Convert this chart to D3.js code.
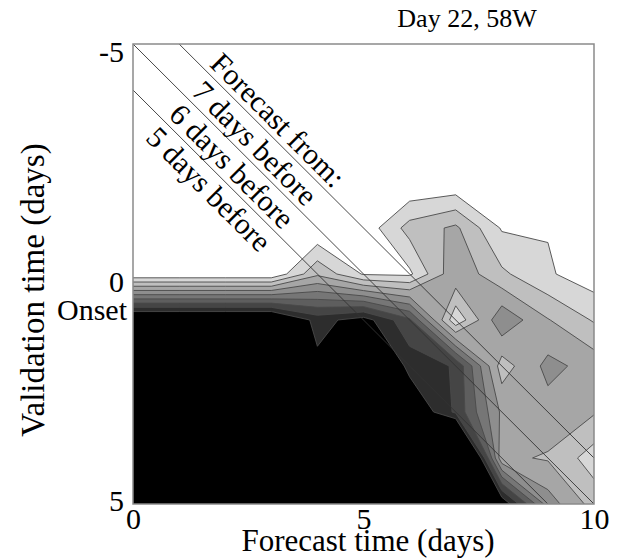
<!DOCTYPE html>
<html>
<head>
<meta charset="utf-8">
<script src="https://cdn.jsdelivr.net/npm/d3@7"></script>
<style>
  html, body { margin: 0; padding: 0; background: #fff; }
  text { font-family: "Liberation Serif", "Times New Roman", serif; fill: #000; }
</style>
</head>
<body>
<svg id="chart" width="619" height="560"></svg>
<script>
// Grid axes: forecast lead (days) and validation time relative to onset (days)
const forecastDays   = [0, 1, 2, 3, 4, 5, 6, 7, 8, 9, 10];
const validationDays = [-5, -4, -3, -2, -1, 0, 1, 2, 3, 4, 5];

// Field values, one row per validation day (columns follow forecastDays)
const rowVm5 = [0, 0, 0, 0, 0, 0, 0, 0, 0, 0, 0];
const rowVm4 = [0, 0, 0, 0, 0, 0, 0, 0, 0, 0, 0];
const rowVm3 = [0, 0, 0, 0, 0, 0, 0, 0, 0, 0, 0];
const rowVm2 = [0, 0, 0, 0, 0, 0, 0, 0.015, 0, 0, 0];
const rowVm1 = [0, 0, 0, 0, 0, 0.03, 0.24, 0.32, 0.09, 0.094, 0];
const rowV0  = [0.01, 0.01, 0.01, 0.01, 0.28, 0.09, 0.08, 0.38, 0.22, 0.113, 0.04];
const rowV1  = [1.1, 1.1, 1.1, 1.1, 0.86, 0.95, 0.72, 0.12, 0.48, 0.306, 0.19];
const rowV2  = [1.2, 1.2, 1.2, 1.2, 0.93, 1.2, 0.86, 0.79, 0.25, 0.43, 0.36];
const rowV3  = [1.2, 1.2, 1.2, 1.2, 1.2, 1.2, 1.03, 0.78, 0.38, 0.36, 0.31];
const rowV4  = [1.2, 1.2, 1.2, 1.2, 1.2, 1.2, 1.2, 1.6, 0.32, 0.29, 0.15];
const rowV5  = [1.2, 1.2, 1.2, 1.2, 1.2, 1.2, 1.2, 1.6, 1.0, 0.45, 0.26];
const fieldRows = [rowVm5, rowVm4, rowVm3, rowVm2, rowVm1, rowV0, rowV1, rowV2, rowV3, rowV4, rowV5];

// Contour levels
const levels = [0.1, 0.2, 0.3, 0.4, 0.5, 0.6, 0.7, 0.8, 0.9];

// Forecast start lines: lead (days before onset); onset sits at validation day 1
const onsetDay = 1;
const leadDays = [7, 6, 5];
const leadLabels = ["7 days before", "6 days before", "5 days before"];
const headerLabel = "Forecast from:";

// Axis ticks
const xTicks = [0, 5, 10];
const yTicks = [-5, 0, 5];

const titleText = "Day 22, 58W";
const xTitle = "Forecast time (days)";
const yTitle = "Validation time (days)";

// ---------------------------------------------------------------------------
const svg = d3.select("#chart");
const plot = { left: 133, right: 594, top: 44, bottom: 504 };

const x = d3.scaleLinear().domain([0, 10]).range([plot.left, plot.right]);
const y = d3.scaleLinear().domain([-5, 5]).range([plot.top, plot.bottom]);

svg.append("defs").append("clipPath").attr("id", "plotClip")
  .append("rect")
  .attr("x", plot.left).attr("y", plot.top)
  .attr("width", plot.right - plot.left).attr("height", plot.bottom - plot.top);

const nx = forecastDays.length, ny = validationDays.length;
const dxStep = forecastDays[1] - forecastDays[0];
const dyStep = validationDays[1] - validationDays[0];
const values = fieldRows.flat();
const negValues = values.map(v => -v);

// grid coordinates (sample i sits at i + 0.5) -> data -> pixels
const gridToScreen = d3.geoTransform({
  point(gx, gy) {
    this.stream.point(
      x(forecastDays[0] + (gx - 0.5) * dxStep),
      y(validationDays[0] + (gy - 0.5) * dyStep)
    );
  }
});
const path = d3.geoPath(gridToScreen);
const contourGen = d3.contours().size([nx, ny]);

// grey shade per band: white below the first level, black above the last
const shade = d3.scaleLinear().domain([1, levels.length - 1]).range([215, 45]);
const bandColor = i => {
  const k = i + 1;
  const g = k >= levels.length ? 0 : Math.round(shade(k));
  return `rgb(${g},${g},${g})`;
};

// Saddle cells: for the light levels the high corners are joined (contour the
// low side and fill its complement); for the darker levels the low corners are.
const joinHighBelow = 0.35;
const outer = `M${x(-2)},${y(-7)}H${x(12)}V${y(7)}H${x(-2)}Z`;

const field = svg.append("g").attr("clip-path", "url(#plotClip)");
field.append("rect")
  .attr("x", plot.left).attr("y", plot.top)
  .attr("width", plot.right - plot.left).attr("height", plot.bottom - plot.top)
  .attr("fill", "#fff");

levels.forEach((t, i) => {
  let fillD, lineD;
  if (t < joinHighBelow) {
    lineD = path(contourGen.thresholds([-t])(negValues)[0]);
    fillD = outer + lineD;
  } else {
    lineD = fillD = path(contourGen.thresholds([t])(values)[0]);
  }
  field.append("path")
    .attr("class", "band")
    .attr("d", fillD)
    .attr("fill-rule", "evenodd")
    .attr("fill", bandColor(i));
  field.append("path")
    .attr("class", "isoline")
    .attr("d", lineD)
    .attr("fill", "none")
    .attr("stroke", "#4a4a4a")
    .attr("stroke-width", 0.9)
    .attr("stroke-linejoin", "round");
});

// forecast start lines: validation = forecast + onset - lead
const guide = svg.append("g").attr("clip-path", "url(#plotClip)");
guide.selectAll("line")
  .data(leadDays)
  .join("line")
  .attr("x1", x(0)).attr("y1", L => y(0 + onsetDay - L))
  .attr("x2", x(10)).attr("y2", L => y(10 + onsetDay - L))
  .attr("stroke", "#333")
  .attr("stroke-width", 0.9);

// labels ride between the lines, rotated along them
const angle = Math.atan2(y(1) - y(0), x(1) - x(0)) * 180 / Math.PI;
const along = -0.2; // forecast + validation at the label centres
const labelItems = [{ text: headerLabel, offset: leadDays[0] - onsetDay + 0.5 }]
  .concat(leadDays.map((L, i) => ({ text: leadLabels[i], offset: L - onsetDay - 0.5 })));

svg.append("g").selectAll("text")
  .data(labelItems)
  .join("text")
  .attr("transform", d => {
    const f = (along + d.offset) / 2, v = (along - d.offset) / 2;
    return `translate(${x(f)},${y(v)}) rotate(${angle})`;
  })
  .attr("text-anchor", "middle")
  .attr("dominant-baseline", "central")
  .attr("font-size", 30)
  .text(d => d.text);

// frame
svg.append("rect")
  .attr("x", plot.left).attr("y", plot.top)
  .attr("width", plot.right - plot.left).attr("height", plot.bottom - plot.top)
  .attr("fill", "none")
  .attr("stroke", "#8a8a8a")
  .attr("stroke-width", 1.5);

// x axis labels
const xAxis = d3.axisBottom(x).tickValues(xTicks).tickSize(0).tickPadding(0).tickFormat(d => String(d));
const gx = svg.append("g").attr("transform", `translate(0,${plot.bottom})`).call(xAxis);
gx.select(".domain").remove();
gx.selectAll("text")
  .attr("font-family", null)
  .attr("font-size", 30)
  .attr("dy", null)
  .attr("y", 25);

// y axis labels
const yAxis = d3.axisLeft(y).tickValues(yTicks).tickSize(0).tickPadding(9).tickFormat(d => String(d));
const gy = svg.append("g").attr("transform", `translate(${plot.left},0)`).call(yAxis);
gy.select(".domain").remove();
gy.selectAll("text")
  .attr("font-family", null)
  .attr("font-size", 30)
  .attr("dominant-baseline", "central")
  .attr("dy", d => d === yTicks[yTicks.length - 1] ? -4 : 7);
gy.append("text")
  .attr("x", -6).attr("y", y(onsetDay))
  .attr("text-anchor", "end")
  .attr("dominant-baseline", "central")
  .attr("dy", -11)
  .attr("font-size", 30)
  .text("Onset");

// titles
svg.append("text")
  .attr("x", 467).attr("y", 27)
  .attr("text-anchor", "middle")
  .attr("font-size", 26)
  .text(titleText);

svg.append("text")
  .attr("x", 368).attr("y", 551)
  .attr("text-anchor", "middle")
  .attr("font-size", 31)
  .text(xTitle);

svg.append("text")
  .attr("transform", `translate(44,${(plot.top + plot.bottom) / 2 + 16}) rotate(-90)`)
  .attr("text-anchor", "middle")
  .attr("font-size", 33)
  .text(yTitle);
</script>
</body>
</html>
